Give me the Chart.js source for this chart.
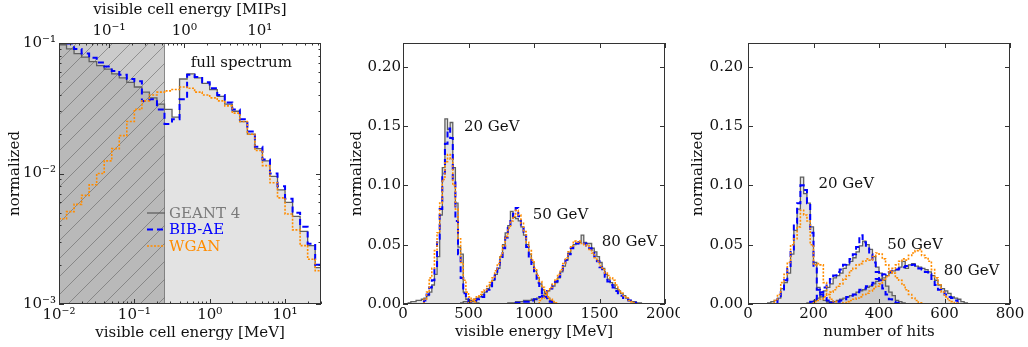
<!DOCTYPE html>
<html>
<head>
<meta charset="utf-8">
<title>visible energy spectra</title>
<script src="https://cdn.jsdelivr.net/npm/chart.js@4.4.0/dist/chart.umd.min.js"></script>
<style>
  html, body { margin: 0; padding: 0; background: #fff; }
  #wrap { position: relative; width: 1028px; height: 347px; }
  .panel { position: absolute; top: 0; height: 347px; }
</style>
</head>
<body>
<div id="wrap">
  <div class="panel" style="left:0;width:340px"><canvas id="cCell"></canvas></div>
  <div class="panel" style="left:340px;width:340px"><canvas id="cEnergy"></canvas></div>
  <div class="panel" style="left:680px;width:348px"><canvas id="cHits"></canvas></div>
</div>
<script>
// ---- left panel: cell energy spectrum, log bins of 0.1 decade from 10^-2 MeV ----
const cellLogStart = -2;
const cellLogStep = 0.1;
const cellGeant = [0.097, 0.090, 0.083, 0.078, 0.072, 0.067, 0.063, 0.058, 0.054, 0.050,
                   0.046, 0.042, 0.038, 0.034, 0.031, 0.027, 0.053, 0.058, 0.054, 0.049,
                   0.044, 0.039, 0.034, 0.030, 0.025, 0.020, 0.0155, 0.0125, 0.0095, 0.0075,
                   0.0060, 0.0047, 0.0036, 0.0028, 0.0019];
const cellBibae = [0.103, 0.099, 0.090, 0.083, 0.077, 0.071, 0.066, 0.061, 0.057, 0.053,
                   0.051, 0.036, 0.037, 0.031, 0.024, 0.026, 0.037, 0.057, 0.055, 0.050,
                   0.045, 0.040, 0.035, 0.031, 0.026, 0.021, 0.016, 0.0128, 0.0100, 0.0080,
                   0.0064, 0.0050, 0.0039, 0.0029, 0.0020];
const cellWgan  = [0.0045, 0.0051, 0.0058, 0.0068, 0.0082, 0.0100, 0.0125, 0.0155, 0.0195, 0.025,
                   0.031, 0.036, 0.040, 0.042, 0.043, 0.044, 0.046, 0.045, 0.042, 0.040,
                   0.038, 0.036, 0.033, 0.029, 0.025, 0.020, 0.015, 0.0115, 0.0085, 0.0065,
                   0.0049, 0.0037, 0.0028, 0.0022, 0.0018];
const mipMeV = 0.461;      // 1 MIP in MeV (top axis)
const cellCutMeV = 0.25;   // hatched region below this

// ---- middle panel: visible energy, 20 MeV bins, first bin lower edge given ----
const energyBin = 20;
const energyGeant20 = { start: 40, values: [0.001, 0.002, 0.002, 0.003, 0.003, 0.004, 0.005, 0.007, 0.010, 0.016,
  0.025, 0.040, 0.075, 0.115, 0.156, 0.147, 0.153, 0.115, 0.085, 0.048, 0.042, 0.010, 0.004, 0.003, 0.002, 0.002, 0.001] };
const energyBibae20 = { start: 160, values: [0.003, 0.008, 0.014, 0.020, 0.032, 0.052, 0.080, 0.110, 0.135, 0.148,
  0.140, 0.105, 0.070, 0.042, 0.022, 0.009, 0.004, 0.002, 0.001] };
const energyWgan20 = { start: 160, values: [0.004, 0.010, 0.022, 0.030, 0.045, 0.060, 0.085, 0.105, 0.120, 0.126,
  0.122, 0.100, 0.080, 0.055, 0.035, 0.020, 0.010, 0.006, 0.004, 0.002] };
const energyGeant50 = { start: 440, values: [0.001, 0.002, 0.002, 0.003, 0.003, 0.004, 0.005, 0.006, 0.008, 0.010,
  0.013, 0.016, 0.020, 0.025, 0.030, 0.040, 0.050, 0.060, 0.066, 0.078, 0.073, 0.072, 0.070, 0.065, 0.058,
  0.050, 0.042, 0.035, 0.028, 0.022, 0.017, 0.012, 0.008, 0.005, 0.003, 0.001] };
const energyBibae50 = { start: 500, values: [0.001, 0.002, 0.003, 0.004, 0.005, 0.006, 0.009, 0.012, 0.015, 0.019,
  0.024, 0.030, 0.038, 0.047, 0.056, 0.064, 0.070, 0.076, 0.081, 0.074, 0.066, 0.058, 0.048, 0.040, 0.032,
  0.025, 0.018, 0.013, 0.009, 0.006, 0.003, 0.002, 0.001] };
const energyWgan50 = { start: 500, values: [0.002, 0.003, 0.004, 0.006, 0.008, 0.010, 0.012, 0.015, 0.018, 0.022,
  0.028, 0.034, 0.041, 0.049, 0.057, 0.064, 0.070, 0.074, 0.079, 0.075, 0.068, 0.061, 0.052, 0.045, 0.037,
  0.030, 0.024, 0.019, 0.014, 0.010, 0.006, 0.004, 0.002, 0.001] };
const energyGeant80 = { start: 800, values: [0.001, 0.001, 0.001, 0.002, 0.002, 0.002, 0.003, 0.003, 0.003, 0.004,
  0.004, 0.005, 0.006, 0.007, 0.009, 0.011, 0.013, 0.015, 0.018, 0.022, 0.027, 0.032, 0.037, 0.043, 0.048,
  0.050, 0.051, 0.052, 0.058, 0.052, 0.051, 0.051, 0.047, 0.044, 0.040, 0.035, 0.030, 0.025, 0.021, 0.018,
  0.016, 0.013, 0.011, 0.009, 0.007, 0.005, 0.003, 0.002, 0.002, 0.001, 0.001] };
const energyBibae80 = { start: 860, values: [0.001, 0.001, 0.002, 0.002, 0.002, 0.003, 0.003, 0.004, 0.005, 0.006,
  0.007, 0.009, 0.011, 0.013, 0.016, 0.019, 0.023, 0.027, 0.032, 0.037, 0.042, 0.047, 0.050, 0.051, 0.052,
  0.052, 0.051, 0.049, 0.047, 0.044, 0.040, 0.036, 0.031, 0.027, 0.023, 0.019, 0.016, 0.014, 0.011, 0.009,
  0.007, 0.005, 0.004, 0.003, 0.002, 0.001] };
const energyWgan80 = { start: 1040, values: [0.003, 0.005, 0.008, 0.011, 0.014, 0.017, 0.021, 0.025, 0.029, 0.034,
  0.039, 0.044, 0.049, 0.053, 0.052, 0.053, 0.051, 0.050, 0.049, 0.046, 0.043, 0.039, 0.036, 0.032, 0.029,
  0.026, 0.024, 0.022, 0.020, 0.016, 0.012, 0.009, 0.007, 0.005, 0.003, 0.002, 0.001] };

// ---- right panel: number of hits, 10-hit bins ----
const hitsBin = 10;
const hitsGeant20 = { start: 60, values: [0.001, 0.002, 0.003, 0.005, 0.013, 0.018, 0.026, 0.042, 0.062, 0.080,
  0.107, 0.093, 0.085, 0.065, 0.035, 0.014, 0.006, 0.003, 0.002, 0.001] };
const hitsBibae20 = { start: 90, values: [0.004, 0.010, 0.020, 0.030, 0.045, 0.068, 0.085, 0.100, 0.096, 0.085,
  0.060, 0.030, 0.012, 0.008, 0.005, 0.003, 0.002] };
const hitsWgan20 = { start: 80, values: [0.003, 0.008, 0.018, 0.025, 0.035, 0.050, 0.055, 0.065, 0.079, 0.075,
  0.070, 0.050, 0.033, 0.034, 0.033, 0.018, 0.008, 0.004, 0.002] };
const hitsGeant50 = { start: 180, values: [0.001, 0.002, 0.003, 0.005, 0.008, 0.011, 0.014, 0.017, 0.022, 0.024,
  0.026, 0.030, 0.033, 0.036, 0.039, 0.044, 0.049, 0.053, 0.050, 0.046, 0.040, 0.031, 0.026, 0.020, 0.015,
  0.010, 0.007, 0.003, 0.002, 0.001] };
const hitsBibae50 = { start: 190, values: [0.002, 0.004, 0.007, 0.010, 0.014, 0.018, 0.021, 0.024, 0.027, 0.029,
  0.033, 0.035, 0.038, 0.042, 0.048, 0.058, 0.052, 0.048, 0.042, 0.035, 0.027, 0.020, 0.013, 0.008, 0.004,
  0.002, 0.001] };
const hitsWgan50 = { start: 200, values: [0.002, 0.003, 0.004, 0.006, 0.008, 0.010, 0.012, 0.015, 0.017, 0.021,
  0.024, 0.028, 0.030, 0.033, 0.034, 0.036, 0.038, 0.037, 0.040, 0.043, 0.042, 0.038, 0.033, 0.028, 0.026,
  0.022, 0.020, 0.016, 0.012, 0.008, 0.005, 0.003, 0.001] };
const hitsGeant80 = { start: 240, values: [0.001, 0.002, 0.002, 0.003, 0.004, 0.005, 0.006, 0.007, 0.008, 0.010,
  0.011, 0.012, 0.014, 0.015, 0.017, 0.019, 0.021, 0.022, 0.024, 0.026, 0.028, 0.029, 0.031, 0.036, 0.030,
  0.033, 0.034, 0.032, 0.031, 0.030, 0.029, 0.027, 0.024, 0.020, 0.016, 0.013, 0.011, 0.009, 0.006, 0.005,
  0.004, 0.002, 0.001] };
const hitsBibae80 = { start: 250, values: [0.001, 0.002, 0.002, 0.003, 0.004, 0.006, 0.007, 0.008, 0.010, 0.012,
  0.013, 0.015, 0.016, 0.018, 0.021, 0.023, 0.025, 0.026, 0.027, 0.028, 0.029, 0.030, 0.031, 0.032, 0.032,
  0.033, 0.031, 0.030, 0.029, 0.027, 0.025, 0.021, 0.016, 0.012, 0.010, 0.008, 0.006, 0.005, 0.003, 0.001] };
const hitsWgan80 = { start: 290, values: [0.001, 0.002, 0.003, 0.004, 0.005, 0.006, 0.008, 0.009, 0.011, 0.013,
  0.015, 0.017, 0.020, 0.023, 0.027, 0.030, 0.033, 0.036, 0.038, 0.037, 0.041, 0.043, 0.045, 0.046, 0.041,
  0.039, 0.036, 0.029, 0.022, 0.016, 0.010, 0.006, 0.003, 0.002, 0.001] };

Chart.defaults.font.family = '"DejaVu Serif", serif';
Chart.defaults.font.size = 15;
Chart.defaults.color = '#111';
Chart.defaults.animation = false;

const GEANT_LINE = '#606060';
const GEANT_FILL = 'rgba(128,128,128,0.22)';
const BIB_COLOR = '#0000ff';
const WGAN_COLOR = '#ff8c00';

// step outline of a histogram: start and end on zero
function histPoints(h, width) {
    const pts = [{ x: h.start, y: 0 }];
    h.values.forEach((v, i) => pts.push({ x: h.start + i * width, y: v }));
    pts.push({ x: h.start + h.values.length * width, y: 0 });
    return pts;
}

// log-binned histogram for the cell spectrum (no zero on a log axis)
function cellPoints(values) {
    const edge = i => Math.pow(10, cellLogStart + i * cellLogStep);
    const pts = values.map((v, i) => ({ x: edge(i), y: v }));
    pts.push({ x: edge(values.length), y: values[values.length - 1] });
    return pts;
}

function geantSet(data, fill) {
    return { data, stepped: true, borderColor: GEANT_LINE, borderWidth: 1.3, pointRadius: 0,
             fill: fill, backgroundColor: GEANT_FILL, order: 3 };
}
function bibSet(data) {
    return { data, stepped: true, borderColor: BIB_COLOR, borderWidth: 2, borderDash: [6, 4],
             pointRadius: 0, fill: false, order: 2 };
}
function wganSet(data) {
    return { data, stepped: true, borderColor: WGAN_COLOR, borderWidth: 1.6, borderDash: [2, 1.5],
             pointRadius: 0, fill: false, order: 1 };
}

const SUP = { '-': '⁻', '0': '⁰', '1': '¹', '2': '²', '3': '³', '4': '⁴', '5': '⁵', '6': '⁶', '7': '⁷', '8': '⁸', '9': '⁹' };
function powLabel(v) {
    const e = Math.round(Math.log10(v));
    if (Math.abs(v / Math.pow(10, e) - 1) > 1e-6) return '';
    return '10' + String(e).split('').map(c => SUP[c]).join('');
}
// ticks at 1..9 x 10^n inside the range
function logTicks(scale) {
    const out = [];
    for (let e = Math.floor(Math.log10(scale.min)) - 1; e <= Math.ceil(Math.log10(scale.max)); e++) {
        for (let m = 1; m < 10; m++) {
            const v = m * Math.pow(10, e);
            if (v >= scale.min * 0.9999 && v <= scale.max * 1.0001) out.push({ value: v, major: m === 1 });
        }
    }
    scale.ticks = out;
}
// fixed axis box so that the plot areas line up with the reference
function fixBox(size) {
    return s => {
        if (s.isHorizontal()) s.height = size; else s.width = size;
        s.paddingLeft = s.paddingRight = s.paddingTop = s.paddingBottom = 0;
    };
}
const noGrid = { display: false, drawTicks: false };

// frame plus inward ticks on all four sides (matplotlib classic look)
const frameBox = {
    id: 'frameBox',
    afterDatasetsDraw(chart) {
        const { ctx, chartArea: a, scales } = chart;
        const mirrorTop = !scales.x2;
        ctx.save();
        ctx.strokeStyle = '#333';
        ctx.lineWidth = 1;
        ctx.beginPath();
        Object.values(scales).forEach(s => {
            s.ticks.forEach((t, i) => {
                const len = t.label ? 5 : 2.5;
                const p = Math.round(s.getPixelForTick(i)) + 0.5;
                if (s.isHorizontal()) {
                    if (s.position === 'bottom') {
                        ctx.moveTo(p, a.bottom); ctx.lineTo(p, a.bottom - len);
                        if (mirrorTop) { ctx.moveTo(p, a.top); ctx.lineTo(p, a.top + len); }
                    } else {
                        ctx.moveTo(p, a.top); ctx.lineTo(p, a.top + len);
                    }
                } else {
                    ctx.moveTo(a.left, p); ctx.lineTo(a.left + len, p);
                    ctx.moveTo(a.right, p); ctx.lineTo(a.right - len, p);
                }
            });
        });
        ctx.stroke();
        ctx.strokeRect(Math.round(a.left) + 0.5, Math.round(a.top) + 0.5, Math.round(a.width) - 1, Math.round(a.height) - 1);
        ctx.restore();
    }
};

// text labels placed in data coordinates
function notesPlugin(notes) {
    return {
        id: 'notes',
        afterDatasetsDraw(chart) {
            const { ctx, scales: { x, y } } = chart;
            ctx.save();
            ctx.font = '15px "DejaVu Serif", serif';
            ctx.fillStyle = '#111';
            ctx.textAlign = 'left';
            ctx.textBaseline = 'middle';
            notes.forEach(n => ctx.fillText(n.text, x.getPixelForValue(n.x), y.getPixelForValue(n.y)));
            ctx.restore();
        }
    };
}

// grey hatched band below the cut (drawn over the fill, under the lines)
const hatchBand = {
    id: 'hatchBand',
    beforeDatasetsDraw(chart) {
        const { ctx, chartArea: a, scales: { x } } = chart;
        const x1 = a.left, x2 = x.getPixelForValue(cellCutMeV);
        ctx.save();
        ctx.beginPath();
        ctx.rect(x1, a.top, x2 - x1, a.height);
        ctx.clip();
        ctx.fillStyle = 'rgba(110,110,110,0.36)';
        ctx.fillRect(x1, a.top, x2 - x1, a.height);
        ctx.strokeStyle = 'rgba(70,70,70,0.55)';
        ctx.lineWidth = 0.8;
        ctx.beginPath();
        for (let s = x1 - a.height; s < x2 + 20; s += 18) {
            ctx.moveTo(s, a.bottom);
            ctx.lineTo(s + a.height, a.top);
        }
        ctx.stroke();
        ctx.restore();
        ctx.save();
        ctx.strokeStyle = 'rgba(90,90,90,0.7)';
        ctx.lineWidth = 1;
        ctx.beginPath();
        ctx.moveTo(Math.round(x2) + 0.5, a.top);
        ctx.lineTo(Math.round(x2) + 0.5, a.bottom);
        ctx.stroke();
        ctx.restore();
    }
};

const legendItems = [
    { text: 'GEANT 4', line: GEANT_LINE, color: '#7a7a7a', dash: [], width: 1.3 },
    { text: 'BIB-AE', line: BIB_COLOR, color: BIB_COLOR, dash: [6, 4], width: 2 },
    { text: 'WGAN', line: WGAN_COLOR, color: WGAN_COLOR, dash: [2, 1.5], width: 1.6 }
];
const cellLegend = {
    id: 'cellLegend',
    afterDatasetsDraw(chart) {
        const { ctx, chartArea: a } = chart;
        ctx.save();
        ctx.font = '15px "DejaVu Serif", serif';
        ctx.textBaseline = 'middle';
        legendItems.forEach((it, i) => {
            const y = a.top + 170 + i * 16.5;
            ctx.strokeStyle = it.line;
            ctx.lineWidth = it.width;
            ctx.setLineDash(it.dash);
            ctx.beginPath();
            ctx.moveTo(a.left + 88, y);
            ctx.lineTo(a.left + 106, y);
            ctx.stroke();
            ctx.fillStyle = it.color;
            ctx.fillText(it.text, a.left + 110, y + 1);
        });
        ctx.restore();
    }
};

const baseOptions = {
    responsive: true,
    maintainAspectRatio: false,
    events: [],
    plugins: { legend: { display: false }, tooltip: { enabled: false }, filler: { drawTime: 'beforeDatasetsDraw' } }
};

// ---- left panel ----
new Chart(document.getElementById('cCell'), {
    type: 'line',
    data: { datasets: [wganSet(cellPoints(cellWgan)), bibSet(cellPoints(cellBibae)), geantSet(cellPoints(cellGeant), 'start')] },
    options: {
        ...baseOptions,
        layout: { padding: { right: 19 } },
        scales: {
            x: {
                type: 'logarithmic', position: 'bottom', min: 0.01, max: 30,
                afterBuildTicks: logTicks, afterFit: fixBox(43),
                grid: noGrid, border: { display: false },
                ticks: { callback: v => powLabel(v), autoSkip: false, maxRotation: 0, padding: 2 },
                title: { display: true, text: 'visible cell energy [MeV]', padding: { bottom: 5 } }
            },
            x2: {
                type: 'logarithmic', position: 'top', min: 0.01 / mipMeV, max: 30 / mipMeV,
                afterBuildTicks: logTicks, afterFit: fixBox(43),
                grid: noGrid, border: { display: false },
                ticks: { callback: v => powLabel(v), autoSkip: false, maxRotation: 0, padding: 3 },
                title: { display: true, text: 'visible cell energy [MIPs]', padding: { top: 1 } }
            },
            y: {
                type: 'logarithmic', min: 1e-3, max: 1e-1,
                afterBuildTicks: logTicks, afterFit: fixBox(59),
                grid: noGrid, border: { display: false },
                ticks: { callback: v => powLabel(v), autoSkip: false, padding: 3 },
                title: { display: true, text: 'normalized', padding: { top: 6 } }
            }
        }
    },
    plugins: [hatchBand, frameBox, notesPlugin([{ text: 'full spectrum', x: 0.56, y: 0.0706 }]), cellLegend]
});

function linearScales(xMax, xStep, xTitle, yWidth, yTitlePad, yTickPad) {
    return {
        x: {
            type: 'linear', min: 0, max: xMax, afterFit: fixBox(43),
            grid: noGrid, border: { display: false },
            ticks: { stepSize: xStep, maxRotation: 0, padding: 1.5, includeBounds: false, callback: v => String(v) },
            title: { display: true, text: xTitle, padding: { bottom: 6 } }
        },
        y: {
            type: 'linear', min: 0, max: 0.22, afterFit: fixBox(yWidth),
            grid: noGrid, border: { display: false },
            ticks: { stepSize: 0.05, includeBounds: false, padding: yTickPad, callback: v => v.toFixed(2) },
            title: { display: true, text: 'normalized', padding: { top: yTitlePad } }
        }
    };
}

// ---- middle panel ----
new Chart(document.getElementById('cEnergy'), {
    type: 'line',
    data: {
        datasets: [
            wganSet(histPoints(energyWgan20, energyBin)), wganSet(histPoints(energyWgan50, energyBin)), wganSet(histPoints(energyWgan80, energyBin)),
            bibSet(histPoints(energyBibae20, energyBin)), bibSet(histPoints(energyBibae50, energyBin)), bibSet(histPoints(energyBibae80, energyBin)),
            geantSet(histPoints(energyGeant20, energyBin), 'origin'), geantSet(histPoints(energyGeant50, energyBin), 'origin'), geantSet(histPoints(energyGeant80, energyBin), 'origin')
        ]
    },
    options: {
        ...baseOptions,
        layout: { padding: { right: 15, top: 43 } },
        scales: linearScales(2000, 500, 'visible energy [MeV]', 63, 8, 2)
    },
    plugins: [frameBox, notesPlugin([
        { text: '20 GeV', x: 465, y: 0.1495 },
        { text: '50 GeV', x: 990, y: 0.075 },
        { text: '80 GeV', x: 1517, y: 0.0525 }
    ])]
});

// ---- right panel ----
new Chart(document.getElementById('cHits'), {
    type: 'line',
    data: {
        datasets: [
            wganSet(histPoints(hitsWgan20, hitsBin)), wganSet(histPoints(hitsWgan50, hitsBin)), wganSet(histPoints(hitsWgan80, hitsBin)),
            bibSet(histPoints(hitsBibae20, hitsBin)), bibSet(histPoints(hitsBibae50, hitsBin)), bibSet(histPoints(hitsBibae80, hitsBin)),
            geantSet(histPoints(hitsGeant20, hitsBin), 'origin'), geantSet(histPoints(hitsGeant50, hitsBin), 'origin'), geantSet(histPoints(hitsGeant80, hitsBin), 'origin')
        ]
    },
    options: {
        ...baseOptions,
        layout: { padding: { right: 18, top: 43 } },
        scales: linearScales(800, 200, 'number of hits', 68, 9, 5)
    },
    plugins: [frameBox, notesPlugin([
        { text: '20 GeV', x: 215, y: 0.101 },
        { text: '50 GeV', x: 425, y: 0.0497 },
        { text: '80 GeV', x: 598, y: 0.028 }
    ])]
});
</script>
</body>
</html>
